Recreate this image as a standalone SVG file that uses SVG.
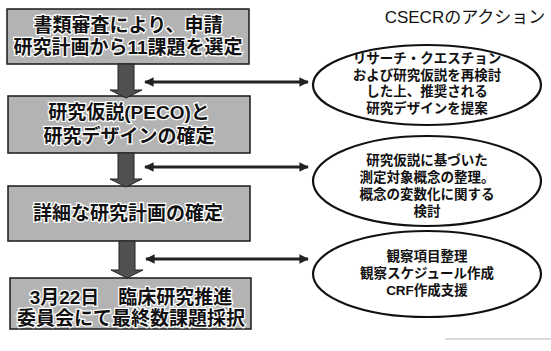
<svg xmlns="http://www.w3.org/2000/svg" width="551" height="351" viewBox="0 0 551 351">
<defs>
<style>
.box{fill:#b3b3b3;stroke:#1a1a1a;stroke-width:1.5}
.bt{font-family:"Liberation Sans","Noto Sans CJK JP",sans-serif;font-size:19px;font-weight:bold;fill:#111;stroke:#fff;stroke-width:2.5;paint-order:stroke fill;text-anchor:middle}
.ell{fill:#fff;stroke:#111;stroke-width:2.2}
.et{font-family:"Liberation Sans","Noto Sans CJK JP",sans-serif;font-size:13.5px;font-weight:bold;fill:#111;text-anchor:middle}
.title{font-family:"Liberation Sans","Noto Sans CJK JP",sans-serif;font-size:17px;fill:#111;text-anchor:middle}
.down{fill:#505050;stroke:#222;stroke-width:1}
.dbl{stroke:#222;stroke-width:3;fill:none;marker-start:url(#ah);marker-end:url(#ah)}
</style>
<marker id="ah" viewBox="0 0 10 10" refX="9" refY="5" markerWidth="4" markerHeight="3.2" orient="auto-start-reverse" markerUnits="strokeWidth">
<path d="M0,0 L10,5 L0,10 Z" fill="#222"/>
</marker>
</defs>
<rect width="551" height="351" fill="#fff"/>
<text class="title" x="465" y="23">CSECRのアクション</text>

<g id="box1">
<rect class="box" x="7" y="9" width="242" height="55"/>
<text class="bt" x="128" y="32">書類審査により、申請<tspan x="128" dy="22">研究計画から11課題を選定</tspan></text>
</g>
<g id="box2">
<rect class="box" x="8" y="96" width="242" height="57"/>
<text class="bt" x="129" y="119">研究仮説(PECO)と<tspan x="129" dy="24">研究デザインの確定</tspan></text>
</g>
<g id="box3">
<rect class="box" x="8" y="186" width="242" height="55"/>
<text class="bt" x="128" y="220">詳細な研究計画の確定</text>
</g>
<g id="box4">
<rect class="box" x="10" y="278" width="241" height="51"/>
<text class="bt" x="131" y="304">3月22日　臨床研究推進<tspan x="131" dy="21">委員会にて最終数課題採択</tspan></text>
</g>

<g id="ellipse1">
<ellipse class="ell" cx="427" cy="85" rx="114" ry="40"/>
<text class="et" x="427" y="63">リサーチ・クエスチョン<tspan x="427" dy="16.5">および研究仮説を再検討</tspan><tspan x="427" dy="16.5">した上、推奨される</tspan><tspan x="427" dy="16.5">研究デザインを提案</tspan></text>
</g>
<g id="ellipse2">
<ellipse class="ell" cx="427" cy="181" rx="114" ry="45"/>
<text class="et" x="427" y="165">研究仮説に基づいた<tspan x="427" dy="17">測定対象概念の整理。</tspan><tspan x="427" dy="17">概念の変数化に関する</tspan><tspan x="427" dy="17">検討</tspan></text>
</g>
<g id="ellipse3">
<ellipse class="ell" cx="427" cy="274" rx="114" ry="43"/>
<text class="et" x="427" y="261">観察項目整理<tspan x="427" dy="17">観察スケジュール作成</tspan><tspan x="427" dy="17">CRF作成支援</tspan></text>
</g>

<g id="connectors">
<path class="down" d="M118,64 H134 V90 H142 L126,98 L110,90 H118 Z"/>
<path class="down" d="M118,153 H134 V179 H142 L126,187 L110,179 H118 Z"/>
<path class="down" d="M119,241 H135 V270 H143 L127,278 L111,270 H119 Z"/>
<line class="dbl" x1="145" y1="82" x2="308" y2="82"/>
<line class="dbl" x1="145" y1="167" x2="308" y2="167"/>
<line class="dbl" x1="146" y1="259" x2="308" y2="259"/>
</g>
<line x1="445" y1="339" x2="551" y2="339" stroke="#ccc" stroke-width="1.5"/>
</svg>
